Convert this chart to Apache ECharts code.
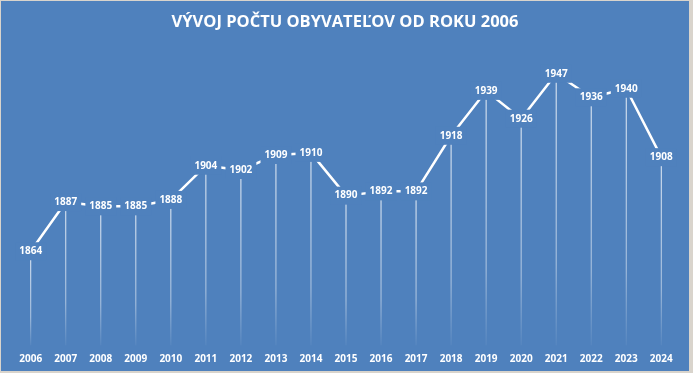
<!DOCTYPE html>
<html>
<head>
<meta charset="utf-8">
<script src="https://cdn.jsdelivr.net/npm/echarts@6/dist/echarts.min.js"></script>
<style>
  html, body { margin: 0; padding: 0; background: #d9d4cc; }
  #chart { position: absolute; left: 1px; top: 1px; width: 688px; height: 370px; }
</style>
</head>
<body>
<div id="chart"></div>
<script>
const titleText = 'VÝVOJ POČTU OBYVATEĽOV OD ROKU 2006';
const years = ['2006','2007','2008','2009','2010','2011','2012','2013','2014','2015','2016','2017','2018','2019','2020','2021','2022','2023','2024'];
const population = [1864,1887,1885,1885,1888,1904,1902,1909,1910,1890,1892,1892,1918,1939,1926,1947,1936,1940,1908];

const BLUE = '#4f81bd';
const FONT = 'Open Sans';
const chart = echarts.init(document.getElementById('chart'));
chart.setOption({
  backgroundColor: BLUE,
  animation: false,
  title: {
    text: titleText,
    left: 'center',
    top: 8,
    textStyle: { color: '#ffffff', fontFamily: FONT, fontWeight: 'bold', fontSize: 16.5 }
  },
  grid: { left: 12.2, right: 10.2, top: 45, bottom: 25.7, containLabel: false },
  xAxis: {
    type: 'category',
    data: years,
    boundaryGap: true,
    axisLine: { show: false },
    axisTick: { show: false },
    axisLabel: { color: '#ffffff', fontFamily: FONT, fontWeight: 'bold', fontSize: 10, margin: 9 }
  },
  yAxis: {
    type: 'value',
    min: 1820,
    max: 1960,
    startValue: 1820,
    show: false,
    splitLine: { show: false }
  },
  series: [
    {
      type: 'bar',
      data: population,
      barWidth: 1,
      z: 1,
      itemStyle: {
        color: new echarts.graphic.LinearGradient(0, 0, 0, 1, [
          { offset: 0, color: 'rgba(255,255,255,0.9)' },
          { offset: 0.7, color: 'rgba(255,255,255,0.55)' },
          { offset: 1, color: 'rgba(255,255,255,0.05)' }
        ])
      },
      silent: true
    },
    {
      type: 'line',
      data: population,
      z: 2,
      symbol: 'circle',
      showSymbol: true,
      symbolSize: 1,
      itemStyle: { color: 'rgba(0,0,0,0)' },
      lineStyle: { color: '#ffffff', width: 2.5 },
      label: {
        show: true,
        position: 'inside',
        color: '#ffffff',
        fontFamily: FONT,
        fontWeight: 'bold',
        fontSize: 10,
        backgroundColor: BLUE,
        padding: [4, 4, 4, 4]
      }
    }
  ]
});
</script>
</body>
</html>
